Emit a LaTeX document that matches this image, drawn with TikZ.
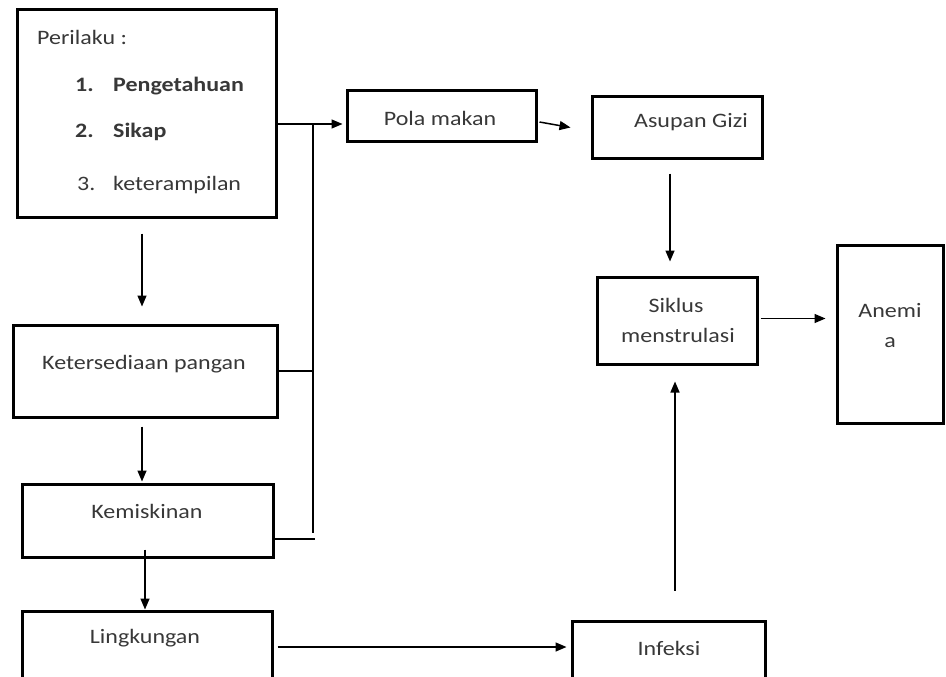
\documentclass[tikz,border=0pt]{standalone}
\usepackage{fontspec}
\setmainfont{Carlito}[FakeStretch=1.17]
\usetikzlibrary{arrows.meta,calc}
\begin{document}
\begin{tikzpicture}[x=1pt,y=-1pt,
  box/.style={draw=black,line width=3pt,rectangle,inner sep=0pt},
  txt/.style={inner sep=0pt,text=black!78,font=\fontsize{20.5}{30}\selectfont},
  arr/.style={draw=black,line width=1.5pt,-{Triangle[length=11pt,width=9pt]}},
  ln/.style={draw=black,line width=1.5pt}]
\useasboundingbox (0,0) rectangle (946,677);
\fill[white] (0,0) rectangle (946,677);
\clip (0,0) rectangle (946,677);
% boxes
\node[box,minimum width=259pt,minimum height=207pt] (per) at (146.5,113.5) {};
\node[box,minimum width=264pt,minimum height=92pt] (ket) at (145,371) {};
\node[box,minimum width=251pt,minimum height=73pt] (kem) at (147.5,520.5) {};
\node[box,minimum width=250pt,minimum height=109pt] (lin) at (147,665.5) {};
\node[box,minimum width=189pt,minimum height=50pt] (pola) at (441.5,116) {};
\node[box,minimum width=170pt,minimum height=61pt] (asu) at (677,127.5) {};
\node[box,minimum width=160pt,minimum height=87pt] (sik) at (677,320.5) {};
\node[box,minimum width=106pt,minimum height=178pt] (ane) at (890,334) {};
\node[box,minimum width=193pt,minimum height=99pt] (inf) at (668.5,670.5) {};
% texts
\node[txt,anchor=base west] (t0) at (37,45) {Perilaku :};
\node[txt,anchor=base west] (t1n) at (75,92) {\bfseries 1.};
\node[txt,anchor=base west] (t1) at (113,92) {\bfseries Pengetahuan};
\node[txt,anchor=base west] (t2n) at (75,138) {\bfseries 2.};
\node[txt,anchor=base west] (t2) at (113,138) {\bfseries Sikap};
\node[txt,anchor=base west] (t3n) at (77,190) {3.};
\node[txt,anchor=base west] (t3) at (113,190) {keterampilan};
\node[txt,anchor=base] (tket) at (144,369) {Ketersediaan pangan};
\node[txt,anchor=base] (tkem) at (147,518) {Kemiskinan};
\node[txt,anchor=base] (tlin) at (145,643) {Lingkungan};
\node[txt,anchor=base] (tpola) at (440,125) {Pola makan};
\node[txt,anchor=base] (tasu) at (691,128) {Asupan Gizi};
\node[txt,anchor=base] (tsik1) at (676,312) {Siklus};
\node[txt,anchor=base] (tsik2) at (678,342) {menstrulasi};
\node[txt,anchor=base] (tane1) at (890,317) {Anemi};
\node[txt,anchor=base] (tane2) at (890,347) {a};
\node[txt,anchor=base] (tinf) at (669,655) {Infeksi};
% connectors
\coordinate (bt) at (313,124);
\coordinate (bb) at (313,533);
\coordinate (kj) at (315,539);
\draw[arr,shorten >=3pt] (per.east |- bt) -- (pola.west |- bt);
\draw[ln] (bt) -- (bb);
\draw[ln] (ket.east) -- (ket.east -| bt);
\draw[ln] (kem.east |- kj) -- (kj);
\draw[arr] ($(pola.east)+(2,6)$) -- ($(asu.west)+(-20,0)$);
\draw[arr] ($(asu.south)+(-7,14)$) -- ($(sik.north)+(-7,-14)$);
\coordinate (s1) at ($(sik.east)+(2,-2)$);
\draw[arr,shorten >=10pt] (s1) -- (s1 -| ane.west);
\draw[arr,shorten <=29pt,shorten >=16pt] ($(inf.north)+(6.5,0)$) -- ($(sik.south)+(-2,0)$);
\draw[arr] ($(lin.east)+(4,-18.5)$) -- ($(inf.west)+(-4,-23.5)$);
\draw[arr] ($(per.south)+(-4.5,15)$) -- ($(ket.north)+(-3,-17)$);
\draw[arr] ($(ket.south)+(-3,8)$) -- ($(kem.north)+(-5.5,-1)$);
\draw[arr] ($(kem.south)+(-2.5,-9)$) -- ($(lin.north)+(-2,0)$);
\end{tikzpicture}
\end{document}
